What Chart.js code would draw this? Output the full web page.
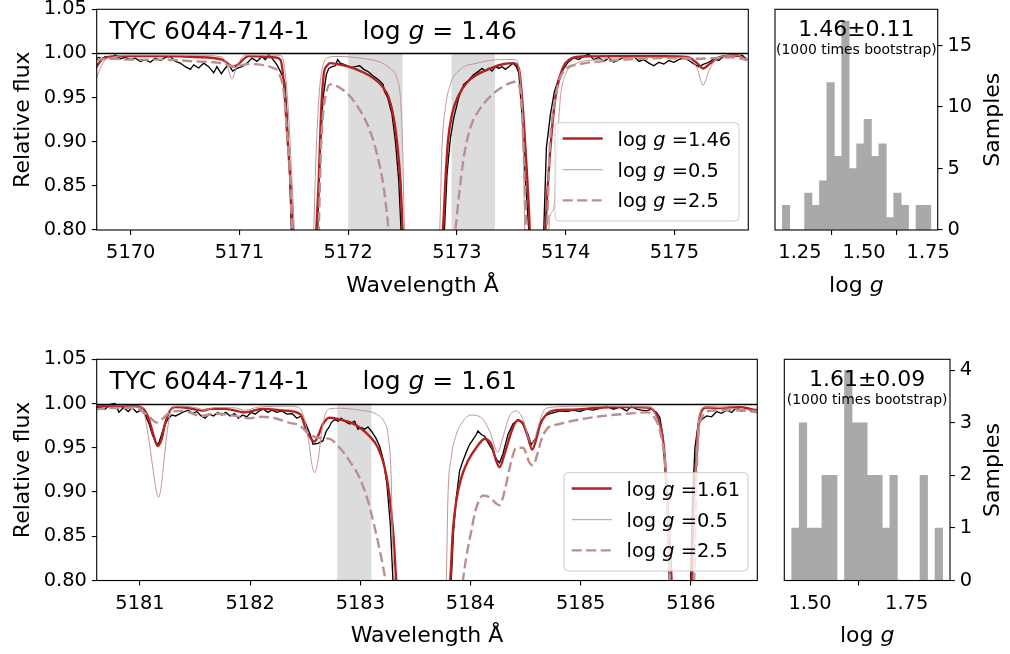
<!DOCTYPE html>
<html><head><meta charset="utf-8">
<script src="https://cdn.jsdelivr.net/npm/chart.js@4.4.0/dist/chart.umd.min.js"></script>
<style>
html,body{margin:0;padding:0;background:#fff;width:1010px;height:654px;overflow:hidden}
canvas{position:absolute}
</style></head><body>
<canvas id="specTop" width="770" height="300" style="left:0px;top:0px"></canvas>
<canvas id="histTop" width="250" height="300" style="left:760px;top:0px"></canvas>
<canvas id="specBot" width="770" height="300" style="left:0px;top:350px"></canvas>
<canvas id="histBot" width="250" height="300" style="left:760px;top:350px"></canvas>
<script>
// ---------------- DATA ----------------
const starName = 'TYC 6044-714-1';
const legendGrid = ['0.5', '2.5'];
const fitTop = '1.46', errTop = '0.11';
const fitBot = '1.61', errBot = '0.09';
const yTicksSpec = [0.80, 0.85, 0.90, 0.95, 1.00, 1.05];
const xTicksTop = [5170, 5171, 5172, 5173, 5174, 5175];
const xTicksBot = [5181, 5182, 5183, 5184, 5185, 5186];
const spansTop = [[5172.0, 5172.5], [5172.95, 5173.35]];
const spansBot = [[5182.79, 5183.10]];

// observed spectrum, top window [wavelength, flux]
const obsTop = [[5169.674,0.993],[5169.705,0.9955],[5169.735,0.994],[5169.766,0.9966],[5169.812,0.9947],[5169.858,0.9985],[5169.904,0.994],[5169.950,0.9955],[5169.996,0.993],[5170.042,0.9947],[5170.088,0.991],[5170.134,0.993],[5170.180,0.990],[5170.226,0.9947],[5170.272,0.992],[5170.318,0.9955],[5170.364,0.9966],[5170.410,0.991],[5170.456,0.989],[5170.502,0.985],[5170.548,0.982],[5170.579,0.987],[5170.625,0.9835],[5170.671,0.989],[5170.717,0.985],[5170.763,0.978],[5170.793,0.985],[5170.833,0.977],[5170.870,0.9835],[5170.901,0.987],[5170.937,0.980],[5170.977,0.983],[5171.023,0.985],[5171.069,0.989],[5171.115,0.9947],[5171.161,0.991],[5171.207,0.9966],[5171.238,0.993],[5171.269,0.999],[5171.299,0.9947],[5171.345,0.987],[5171.391,0.976],[5171.416,0.968],[5171.437,0.931],[5171.459,0.874],[5171.477,0.800],
[5171.600,0.5],
[5171.719,0.800],[5171.744,0.893],[5171.769,0.950],[5171.799,0.976],[5171.821,0.983],[5171.851,0.985],[5171.882,0.986],[5171.903,0.993],[5171.928,0.989],[5171.974,0.987],[5172.020,0.984],[5172.066,0.985],[5172.106,0.986],[5172.143,0.982],[5172.189,0.979],[5172.235,0.974],[5172.281,0.970],[5172.321,0.965],[5172.333,0.957],[5172.363,0.950],[5172.403,0.931],[5172.434,0.901],[5172.465,0.856],[5172.486,0.800],
[5172.680,0.5],
[5172.885,0.800],[5172.909,0.863],[5172.940,0.904],[5172.971,0.927],[5173.017,0.950],[5173.063,0.965],[5173.109,0.970],[5173.155,0.976],[5173.201,0.980],[5173.231,0.983],[5173.262,0.980],[5173.293,0.983],[5173.323,0.980],[5173.354,0.985],[5173.385,0.983],[5173.415,0.985],[5173.446,0.982],[5173.477,0.985],[5173.516,0.989],[5173.547,0.985],[5173.569,0.978],[5173.599,0.931],[5173.630,0.856],[5173.661,0.800],
[5173.730,0.5],
[5173.799,0.800],[5173.823,0.893],[5173.860,0.931],[5173.897,0.957],[5173.937,0.972],[5173.983,0.983],[5174.029,0.991],[5174.075,0.995],[5174.121,0.993],[5174.167,0.997],[5174.213,0.999],[5174.259,0.993],[5174.305,0.9955],[5174.351,0.991],[5174.397,0.995],[5174.443,0.990],[5174.489,0.993],[5174.535,0.9955],[5174.581,0.995],[5174.627,0.997],[5174.673,0.991],[5174.719,0.993],[5174.765,0.989],[5174.811,0.986],[5174.857,0.990],[5174.903,0.988],[5174.949,0.992],[5174.995,0.990],[5175.041,0.993],[5175.087,0.995],[5175.133,0.992],[5175.179,0.988],[5175.225,0.985],[5175.271,0.988],[5175.317,0.990],[5175.363,0.994],[5175.409,0.992],[5175.455,0.997],[5175.516,0.998],[5175.577,0.997],[5175.623,0.998],[5175.669,0.993]];

// best-fit model, top window (log g = 1.46)
const bestTop = [[5169.674,0.983],[5169.735,0.993],[5169.827,0.9966],[5169.981,0.997],[5170.287,0.997],[5170.594,0.996],[5170.839,0.993],[5170.947,0.985],[5171.085,0.997],[5171.330,0.9955],[5171.376,0.993],[5171.407,0.968],[5171.437,0.912],[5171.468,0.856],[5171.489,0.800],[5171.600,0.5],[5171.707,0.800],[5171.729,0.856],[5171.750,0.931],[5171.775,0.976],[5171.805,0.986],[5171.836,0.989],[5171.897,0.988],[5172.005,0.985],[5172.112,0.980],[5172.219,0.973],[5172.311,0.963],[5172.373,0.950],[5172.419,0.927],[5172.455,0.893],[5172.480,0.856],[5172.501,0.800],[5172.680,0.5],[5172.872,0.800],[5172.894,0.856],[5172.918,0.901],[5172.955,0.931],[5173.017,0.953],[5173.093,0.967],[5173.185,0.976],[5173.308,0.983],[5173.431,0.988],[5173.523,0.989],[5173.569,0.983],[5173.599,0.950],[5173.630,0.893],[5173.670,0.800],[5173.740,0.5],[5173.814,0.800],[5173.860,0.893],[5173.906,0.950],[5173.952,0.976],[5173.998,0.989],[5174.059,0.9947],[5174.167,0.9966],[5174.443,0.997],[5174.903,0.997],[5175.117,0.996],[5175.209,0.989],[5175.264,0.983],[5175.332,0.989],[5175.424,0.996],[5175.577,0.998],[5175.669,0.992]];

// model log g = 0.5, top window
const lowTop = [[5169.674,0.968],[5169.720,0.983],[5169.766,0.993],[5169.827,0.9955],[5169.981,0.998],[5170.594,0.998],[5170.839,0.996],[5170.890,0.985],[5170.931,0.971],[5170.975,0.985],[5171.054,0.998],[5171.376,0.998],[5171.416,0.983],[5171.452,0.931],[5171.483,0.856],[5171.505,0.800],[5171.600,0.5],[5171.683,0.800],[5171.707,0.893],[5171.738,0.961],[5171.775,0.989],[5171.821,0.9955],[5171.897,0.9966],[5172.112,0.9947],[5172.296,0.990],[5172.388,0.983],[5172.449,0.972],[5172.480,0.950],[5172.501,0.893],[5172.517,0.800],[5172.680,0.5],[5172.842,0.800],[5172.863,0.893],[5172.894,0.938],[5172.940,0.965],[5173.032,0.982],[5173.185,0.989],[5173.400,0.993],[5173.538,0.993],[5173.578,0.976],[5173.608,0.912],[5173.624,0.800],[5173.730,0.5],[5173.845,0.800],[5173.860,0.818],[5173.891,0.825],[5173.921,0.893],[5173.952,0.950],[5173.998,0.976],[5174.075,0.987],[5174.289,0.993],[5174.749,0.9955],[5175.117,0.9955],[5175.209,0.983],[5175.264,0.964],[5175.317,0.980],[5175.393,0.9947],[5175.577,0.998],[5175.669,0.992]];

// model log g = 2.5, top window
const highTop = [[5169.674,0.993],[5169.827,0.994],[5169.981,0.993],[5170.287,0.993],[5170.594,0.991],[5170.839,0.989],[5170.947,0.985],[5171.085,0.988],[5171.207,0.987],[5171.299,0.984],[5171.361,0.978],[5171.407,0.957],[5171.437,0.912],[5171.468,0.856],[5171.483,0.800],[5171.600,0.5],[5171.729,0.800],[5171.750,0.893],[5171.775,0.938],[5171.805,0.959],[5171.836,0.965],[5171.897,0.963],[5172.005,0.953],[5172.097,0.938],[5172.189,0.916],[5172.265,0.886],[5172.327,0.848],[5172.373,0.800],[5172.680,0.5],[5172.986,0.800],[5173.017,0.837],[5173.063,0.882],[5173.124,0.916],[5173.216,0.938],[5173.339,0.955],[5173.461,0.965],[5173.538,0.968],[5173.569,0.965],[5173.599,0.931],[5173.639,0.800],[5173.730,0.5],[5173.829,0.800],[5173.854,0.893],[5173.891,0.938],[5173.937,0.968],[5173.998,0.982],[5174.136,0.988],[5174.443,0.992],[5174.903,0.9947],[5175.209,0.994],[5175.516,0.9955],[5175.669,0.993]];

// observed spectrum, bottom window
const obsBot = [[5180.591,0.9955],[5180.636,0.996],[5180.682,0.9936],[5180.727,0.999],[5180.773,1.0],[5180.809,0.990],[5180.849,0.9955],[5180.894,0.991],[5180.930,0.9955],[5180.970,0.990],[5181.009,0.9925],[5181.046,0.988],[5181.082,0.977],[5181.112,0.965],[5181.143,0.956],[5181.167,0.954],[5181.191,0.963],[5181.221,0.975],[5181.252,0.982],[5181.288,0.987],[5181.324,0.986],[5181.364,0.9887],[5181.403,0.991],[5181.439,0.9925],[5181.476,0.9887],[5181.515,0.991],[5181.555,0.986],[5181.591,0.9834],[5181.627,0.988],[5181.667,0.986],[5181.706,0.990],[5181.742,0.987],[5181.779,0.990],[5181.818,0.986],[5181.858,0.9887],[5181.894,0.9834],[5181.930,0.987],[5181.970,0.985],[5182.009,0.990],[5182.046,0.988],[5182.082,0.9917],[5182.121,0.9936],[5182.161,0.990],[5182.197,0.9925],[5182.242,0.990],[5182.288,0.9917],[5182.333,0.988],[5182.379,0.9887],[5182.424,0.9834],[5182.464,0.986],[5182.500,0.9785],[5182.545,0.965],[5182.570,0.954],[5182.615,0.955],[5182.661,0.958],[5182.691,0.969],[5182.715,0.973],[5182.736,0.9785],[5182.767,0.982],[5182.797,0.980],[5182.827,0.9834],[5182.857,0.980],[5182.903,0.977],[5182.948,0.980],[5182.978,0.971],[5183.009,0.973],[5183.039,0.971],[5183.069,0.9736],[5183.099,0.969],[5183.139,0.9615],[5183.175,0.952],[5183.211,0.935],[5183.241,0.909],[5183.272,0.8635],[5183.296,0.800],[5183.560,0.5],[5183.825,0.800],[5183.846,0.856],[5183.871,0.894],[5183.901,0.924],[5183.931,0.935],[5183.961,0.945],[5183.992,0.954],[5184.016,0.958],[5184.052,0.965],[5184.067,0.969],[5184.098,0.965],[5184.128,0.963],[5184.158,0.956],[5184.197,0.948],[5184.234,0.937],[5184.264,0.933],[5184.294,0.943],[5184.340,0.965],[5184.385,0.977],[5184.430,0.982],[5184.476,0.9785],[5184.521,0.965],[5184.551,0.954],[5184.597,0.9615],[5184.631,0.9785],[5184.676,0.986],[5184.721,0.9887],[5184.767,0.990],[5184.812,0.9917],[5184.872,0.991],[5184.933,0.9925],[5184.993,0.991],[5185.054,0.9936],[5185.114,0.9925],[5185.175,0.9947],[5185.235,0.997],[5185.296,0.9936],[5185.356,0.996],[5185.417,0.9917],[5185.462,0.997],[5185.508,0.9936],[5185.553,0.9925],[5185.598,0.9917],[5185.644,0.9936],[5185.689,0.990],[5185.719,0.984],[5185.743,0.965],[5185.765,0.931],[5185.786,0.875],[5185.804,0.800],[5185.900,0.5],[5185.998,0.800],[5186.016,0.894],[5186.037,0.950],[5186.067,0.977],[5186.098,0.982],[5186.143,0.986],[5186.188,0.985],[5186.234,0.991],[5186.279,0.989],[5186.324,0.9925],[5186.370,0.990],[5186.415,0.9955],[5186.461,0.991],[5186.506,0.9955],[5186.551,0.991],[5186.603,0.9936]];

// best-fit model, bottom window (log g = 1.61)
const bestBot = [[5180.591,0.997],[5180.773,0.997],[5180.955,0.997],[5181.030,0.994],[5181.076,0.984],[5181.121,0.965],[5181.161,0.952],[5181.197,0.960],[5181.227,0.977],[5181.273,0.992],[5181.318,0.996],[5181.439,0.995],[5181.561,0.992],[5181.652,0.994],[5181.773,0.994],[5181.955,0.990],[5182.106,0.994],[5182.318,0.992],[5182.455,0.988],[5182.509,0.970],[5182.555,0.960],[5182.585,0.957],[5182.615,0.963],[5182.661,0.977],[5182.721,0.984],[5182.812,0.982],[5182.903,0.979],[5182.993,0.973],[5183.084,0.963],[5183.160,0.950],[5183.220,0.928],[5183.266,0.894],[5183.302,0.848],[5183.326,0.800],[5183.570,0.5],[5183.816,0.800],[5183.840,0.856],[5183.871,0.890],[5183.916,0.916],[5183.976,0.935],[5184.052,0.950],[5184.128,0.960],[5184.188,0.954],[5184.234,0.935],[5184.264,0.928],[5184.309,0.943],[5184.385,0.973],[5184.430,0.981],[5184.476,0.977],[5184.521,0.962],[5184.560,0.948],[5184.597,0.960],[5184.631,0.976],[5184.691,0.988],[5184.751,0.992],[5184.903,0.993],[5185.205,0.9955],[5185.447,0.996],[5185.629,0.995],[5185.674,0.990],[5185.719,0.977],[5185.756,0.950],[5185.786,0.894],[5185.810,0.837],[5185.825,0.800],[5185.910,0.5],[5186.007,0.800],[5186.022,0.875],[5186.046,0.931],[5186.067,0.973],[5186.098,0.992],[5186.143,0.9955],[5186.264,0.995],[5186.355,0.9955],[5186.445,0.996],[5186.536,0.994],[5186.603,0.992]];

// model log g = 0.5, bottom window
const lowBot = [[5180.591,0.9985],[5181.015,0.9955],[5181.046,0.984],[5181.082,0.958],[5181.112,0.931],[5181.143,0.905],[5181.167,0.894],[5181.191,0.905],[5181.221,0.939],[5181.252,0.973],[5181.288,0.994],[5181.349,0.997],[5181.500,0.9955],[5181.591,0.9925],[5181.682,0.9955],[5181.864,0.995],[5181.955,0.9925],[5182.076,0.996],[5182.349,0.997],[5182.439,0.9955],[5182.485,0.986],[5182.530,0.958],[5182.561,0.931],[5182.585,0.922],[5182.615,0.935],[5182.646,0.965],[5182.676,0.986],[5182.721,0.994],[5182.812,0.9947],[5182.993,0.9925],[5183.145,0.988],[5183.220,0.9785],[5183.251,0.965],[5183.281,0.9125],[5183.290,0.856],[5183.311,0.800],[5183.550,0.5],[5183.780,0.800],[5183.795,0.894],[5183.825,0.939],[5183.871,0.965],[5183.931,0.980],[5184.007,0.987],[5184.098,0.984],[5184.173,0.969],[5184.249,0.945],[5184.294,0.962],[5184.355,0.986],[5184.415,0.9917],[5184.476,0.982],[5184.536,0.958],[5184.566,0.956],[5184.612,0.973],[5184.650,0.988],[5184.676,0.9936],[5184.751,0.996],[5185.054,0.997],[5185.629,0.996],[5185.689,0.984],[5185.735,0.962],[5185.780,0.9125],[5185.810,0.800],[5185.910,0.5],[5186.022,0.800],[5186.037,0.894],[5186.058,0.962],[5186.082,0.988],[5186.128,0.996],[5186.264,0.9955],[5186.603,0.992]];

// model log g = 2.5, bottom window
const highBot = [[5180.591,0.9936],[5180.773,0.995],[5180.955,0.995],[5181.076,0.986],[5181.152,0.9785],[5181.197,0.982],[5181.273,0.990],[5181.379,0.9917],[5181.561,0.986],[5181.682,0.9887],[5181.864,0.986],[5181.985,0.9834],[5182.106,0.985],[5182.227,0.9834],[5182.349,0.9785],[5182.449,0.975],[5182.540,0.965],[5182.630,0.961],[5182.721,0.960],[5182.812,0.950],[5182.903,0.935],[5182.993,0.916],[5183.069,0.890],[5183.130,0.860],[5183.190,0.826],[5183.229,0.800],[5183.600,0.5],[5183.931,0.800],[5183.961,0.826],[5184.007,0.856],[5184.052,0.882],[5184.113,0.896],[5184.173,0.894],[5184.234,0.887],[5184.264,0.885],[5184.309,0.901],[5184.370,0.935],[5184.415,0.950],[5184.476,0.950],[5184.536,0.933],[5184.566,0.930],[5184.612,0.945],[5184.640,0.958],[5184.691,0.971],[5184.812,0.977],[5184.993,0.982],[5185.205,0.986],[5185.447,0.9887],[5185.598,0.990],[5185.659,0.986],[5185.719,0.969],[5185.765,0.931],[5185.795,0.856],[5185.810,0.800],[5185.910,0.5],[5186.030,0.800],[5186.046,0.894],[5186.067,0.962],[5186.107,0.986],[5186.173,0.9917],[5186.324,0.9925],[5186.506,0.9917],[5186.603,0.990]];

// bootstrap histograms: bin centres and counts
const binsTop = [1.1960,1.2249,1.2538,1.2828,1.3117,1.3407,1.3696,1.3986,1.4275,1.4564,1.4854,1.5143,1.5433,1.5722,1.6012,1.6301,1.6590,1.6880,1.7169,1.7459];
const countsTop = [2,0,0,3,2,4,12,6,17,5,7,9,6,7,1,3,2,0,2,2];
const binsBot = [1.4624,1.4819,1.5014,1.5209,1.5405,1.5600,1.5795,1.5990,1.6185,1.6380,1.6576,1.6771,1.6966,1.7161,1.7356,1.7551,1.7747,1.7942,1.8137,1.8332];
const countsBot = [1,3,1,1,2,2,0,4,3,3,2,2,1,2,0,0,0,2,0,1];
const hxTicksTop = [1.25, 1.50, 1.75];
const hyTicksTop = [0, 5, 10, 15];
const hxTicksBot = [1.50, 1.75];
const hyTicksBot = [0, 1, 2, 3, 4];

// ---------------- STYLE ----------------
const FONT = '"DejaVu Sans", "Liberation Sans", sans-serif';
const TICK = 19.4, LABEL = 22, TITLE = 25, LEG = 19.4, SMALL = 13.9;
const C_FIT = '#b22222', C_LOW = '#c49494', C_HIGH = '#bc8f8f';

function pts(a) { return a.map(p => ({x: p[0], y: p[1]})); }

function rich(ctx, x, yCap, size, segs, align, rot) {
  ctx.save();
  ctx.fillStyle = '#000';
  ctx.textBaseline = 'alphabetic';
  ctx.textAlign = 'left';
  const fonts = segs.map(s => (s[1] ? 'italic ' : '') + size + 'px ' + FONT);
  const ws = segs.map((s, i) => { ctx.font = fonts[i]; return ctx.measureText(s[0]).width; });
  const total = ws.reduce((p, c) => p + c, 0);
  ctx.translate(x, yCap);
  if (rot) ctx.rotate(rot);
  let cx = align === 'center' ? -total / 2 : (align === 'right' ? -total : 0);
  const base = 0.365 * size;
  segs.forEach((s, i) => { ctx.font = fonts[i]; ctx.fillText(s[0], cx, base); cx += ws[i]; });
  ctx.restore();
}

function axisCommon(ticks, fmt, pad, extra) {
  return Object.assign({
    type: 'linear', offset: false,
    afterBuildTicks: s => { s.ticks = ticks.map(v => ({value: v})); },
    ticks: {color: '#000', font: {family: FONT, size: TICK}, padding: pad, maxRotation: 0, minRotation: 0, autoSkip: false, callback: fmt},
    grid: {display: true, drawOnChartArea: false, drawTicks: true, tickLength: 4.9, color: '#000', lineWidth: 1.1},
    border: {display: false}
  }, extra);
}

function specChart(id, o) {
  const W = 770, H = 300;
  const deco = {
    id: 'deco' + id,
    beforeDatasetsDraw(chart) {
      const {ctx, scales: {x, y}} = chart;
      ctx.save();
      ctx.fillStyle = '#dcdcdc';
      const yt = y.getPixelForValue(1.0), yb = y.getPixelForValue(0.8);
      o.spans.forEach(([a, b]) => {
        const xa = x.getPixelForValue(a), xb = x.getPixelForValue(b);
        ctx.fillRect(xa, yt, xb - xa, yb - yt);
      });
      ctx.restore();
    },
    afterDatasetsDraw(chart) {
      const {ctx, chartArea: a, scales: {x, y}} = chart;
      ctx.save();
      ctx.strokeStyle = '#000';
      ctx.lineWidth = 1.3;
      const y1 = Math.round(y.getPixelForValue(1.0)) + 0.5;
      ctx.beginPath(); ctx.moveTo(a.left, y1); ctx.lineTo(a.right, y1); ctx.stroke();
      ctx.lineWidth = 1.1;
      ctx.strokeRect(a.left, a.top, a.right - a.left, a.bottom - a.top);
      // header text
      rich(ctx, 109.5, 29.5, TITLE, [[starName, false]], 'left');
      rich(ctx, 362.5, 29.5, TITLE, [['log ', false], ['g', true], [' = ' + o.logg, false]], 'left');
      // legend
      const x1 = a.right - 9.3, x0 = x1 - 184, ly0 = 122.7, ly1 = 221;
      ctx.fillStyle = 'rgba(255,255,255,0.8)';
      ctx.strokeStyle = '#cccccc';
      ctx.lineWidth = 1;
      ctx.beginPath();
      if (ctx.roundRect) ctx.roundRect(x0, ly0, x1 - x0, ly1 - ly0, 4); else ctx.rect(x0, ly0, x1 - x0, ly1 - ly0);
      ctx.fill(); ctx.stroke();
      const rows = [ly0 + 15.8, ly0 + 47, ly0 + 77.7];
      const styles = [[C_FIT, 2.4, []], [C_LOW, 1.0, []], [C_HIGH, 2.4, [10, 4.5]]];
      const labels = [o.logg, legendGrid[0], legendGrid[1]];
      rows.forEach((ry, i) => {
        ctx.save();
        ctx.strokeStyle = styles[i][0]; ctx.lineWidth = styles[i][1]; ctx.setLineDash(styles[i][2]);
        ctx.beginPath(); ctx.moveTo(x0 + 7.7, ry); ctx.lineTo(x0 + 47.7, ry); ctx.stroke();
        ctx.restore();
        rich(ctx, x0 + 62.5, ry, LEG, [['log ', false], ['g', true], [' =' + labels[i], false]], 'left');
      });
      // axis titles
      rich(ctx, 21, (a.top + a.bottom) / 2, LABEL, [['Relative flux', false]], 'center', -Math.PI / 2);
      rich(ctx, (a.left + a.right) / 2, 284, LABEL, [['Wavelength Å', false]], 'center');
      ctx.restore();
    }
  };
  const line = (data, color, w, order, extra) => Object.assign({
    data: pts(data), borderColor: color, borderWidth: w, pointRadius: 0, fill: false, order: order,
    cubicInterpolationMode: 'monotone'
  }, extra || {});
  return new Chart(document.getElementById(id), {
    type: 'line',
    data: {datasets: [
      line(o.obs, '#000000', 1.35, 3, {cubicInterpolationMode: 'default', tension: 0}),
      line(o.best, C_FIT, 2.4, 2),
      line(o.low, C_LOW, 1.0, 1),
      line(o.high, C_HIGH, 2.4, 0, {borderDash: [10, 4.5]})
    ]},
    options: {
      responsive: false, animation: false, devicePixelRatio: 1, events: [],
      layout: {padding: {left: 0, top: o.top, right: W - o.right, bottom: 0}},
      plugins: {legend: {display: false}, tooltip: {enabled: false}},
      scales: {
        x: axisCommon(o.xTicks, v => String(v), 6.5, {min: o.xMin, max: o.xMax,
          afterFit: s => { s.height = H - o.bottom; s.paddingLeft = 0; s.paddingRight = 0; }}),
        y: axisCommon(yTicksSpec, v => v.toFixed(2), 4.9, {min: 0.8, max: 1.05,
          afterFit: s => { s.width = 96.7; s.paddingTop = 0; s.paddingBottom = 0; }})
      }
    },
    plugins: [deco]
  });
}

function histChart(id, o) {
  const W = 250, H = 300;
  const deco = {
    id: 'hdeco' + id,
    afterDatasetsDraw(chart) {
      const {ctx, chartArea: a} = chart;
      ctx.save();
      ctx.strokeStyle = '#000'; ctx.lineWidth = 1.1;
      ctx.strokeRect(a.left, a.top, a.right - a.left, a.bottom - a.top);
      const cx = (a.left + a.right) / 2;
      rich(ctx, cx, 28, 22, [[o.val + '±' + o.err, false]], 'center');
      rich(ctx, cx, 48.5, SMALL, [['(1000 times bootstrap)', false]], 'center');
      rich(ctx, 231, (a.top + a.bottom) / 2, LABEL, [['Samples', false]], 'center', -Math.PI / 2);
      rich(ctx, cx, 284, LABEL, [['log ', false], ['g', true]], 'center');
      ctx.restore();
    }
  };
  const data = o.bins.map((b, i) => ({x: b, y: o.counts[i]}));
  return new Chart(document.getElementById(id), {
    type: 'bar',
    data: {datasets: [{data: data, backgroundColor: '#a9a9a9', borderWidth: 0, barPercentage: 1, categoryPercentage: 1}]},
    options: {
      responsive: false, animation: false, devicePixelRatio: 1, events: [],
      layout: {padding: {left: o.left, top: 9.3, right: 0, bottom: 0}},
      plugins: {legend: {display: false}, tooltip: {enabled: false}},
      scales: {
        x: axisCommon(o.xTicks, v => v.toFixed(2), 6.5, {min: o.xMin, max: o.xMax,
          afterFit: s => { s.height = H - o.bottom; s.paddingLeft = 0; s.paddingRight = 0; }}),
        y: axisCommon(o.yTicks, v => String(v), 4.9, {position: 'right', min: 0, max: o.yMax,
          afterFit: s => { s.width = W - o.right; s.paddingTop = 0; s.paddingBottom = 0; }})
      }
    },
    plugins: [deco]
  });
}

specChart('specTop', {obs: obsTop, best: bestTop, low: lowTop, high: highTop, spans: spansTop,
  xMin: 5169.687, xMax: 5175.68, xTicks: xTicksTop, right: 748.3, top: 9.3, bottom: 230, logg: fitTop});
specChart('specBot', {obs: obsBot, best: bestBot, low: lowBot, high: highBot, spans: spansBot,
  xMin: 5180.607, xMax: 5186.603, xTicks: xTicksBot, right: 757.3, top: 9.3, bottom: 230.5, logg: fitBot});
histChart('histTop', {bins: binsTop, counts: countsTop, xMin: 1.153, xMax: 1.787, xTicks: hxTicksTop,
  yTicks: hyTicksTop, yMax: 17.95, left: 15, right: 177.7, bottom: 230, val: fitTop, err: errTop});
histChart('histBot', {bins: binsBot, counts: countsBot, xMin: 1.4335, xMax: 1.862, xTicks: hxTicksBot,
  yTicks: hyTicksBot, yMax: 4.21, left: 24.3, right: 190, bottom: 230.5, val: fitBot, err: errBot});
</script>
</body></html>
